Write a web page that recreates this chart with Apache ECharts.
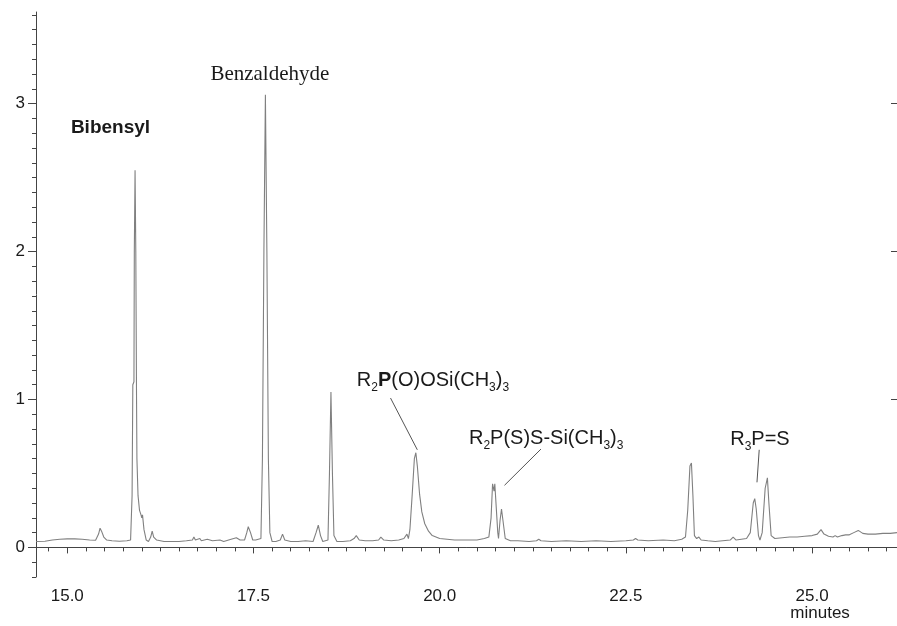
<!DOCTYPE html>
<html>
<head>
<meta charset="utf-8">
<script src="https://cdn.jsdelivr.net/npm/echarts@6/dist/echarts.min.js"></script>
<style>
html,body{margin:0;padding:0;background:#fff;}
#chart{width:897px;height:626px;}
</style>
</head>
<body>
<div id="chart"></div>
<script>
// Retention time (minutes) and detector signal
const times = [
14.58,14.70,14.80,14.90,15.00,15.10,15.20,15.30,15.38,15.42,15.44,15.46,15.49,15.53,15.60,15.70,15.80,15.85,
15.87,15.88,15.895,15.90,15.91,15.92,15.93,15.935,15.95,15.97,15.99,16.00,16.01,16.03,16.06,16.09,16.12,16.14,16.16,
16.20,16.30,16.40,16.50,16.60,16.68,16.70,16.72,16.78,16.80,16.88,16.95,17.05,17.10,17.20,17.27,17.32,17.38,17.41,
17.43,17.46,17.49,17.53,17.60,17.62,17.64,17.66,17.68,17.70,17.72,17.75,17.80,17.86,17.89,17.92,18.00,18.10,18.20,
18.30,18.34,18.37,18.40,18.43,18.50,18.52,18.54,18.56,18.58,18.62,18.70,18.80,18.85,18.88,18.92,19.00,19.10,19.18,
19.21,19.25,19.35,19.45,19.52,19.56,19.58,19.60,19.63,19.66,19.68,19.70,19.73,19.76,19.80,19.85,19.90,19.95,20.00,
20.10,20.20,20.30,20.40,20.50,20.60,20.66,20.69,20.71,20.73,20.74,20.76,20.78,20.79,20.81,20.83,20.85,20.88,20.95,
21.05,21.20,21.30,21.33,21.36,21.50,21.70,21.90,22.10,22.30,22.50,22.60,22.63,22.66,22.80,23.00,23.15,23.25,23.30,
23.33,23.36,23.38,23.40,23.42,23.45,23.48,23.51,23.60,23.70,23.80,23.90,23.94,23.98,24.05,24.12,24.17,24.21,24.23,
24.25,24.28,24.30,24.33,24.37,24.40,24.42,24.45,24.50,24.60,24.70,24.80,24.90,25.00,25.07,25.12,25.16,25.22,25.28,
25.31,25.34,25.40,25.45,25.50,25.56,25.62,25.68,25.75,25.85,25.95,26.05,26.14
];
const signal = [
0.040,0.042,0.050,0.055,0.058,0.058,0.055,0.050,0.048,0.09,0.13,0.11,0.07,0.05,0.045,0.042,0.045,0.05,
0.35,1.10,1.12,2.00,2.55,2.00,1.00,0.60,0.35,0.25,0.22,0.20,0.22,0.12,0.05,0.04,0.07,0.11,0.07,
0.05,0.04,0.04,0.04,0.045,0.05,0.07,0.05,0.06,0.045,0.055,0.045,0.05,0.04,0.055,0.065,0.05,0.05,0.10,
0.14,0.10,0.05,0.05,0.06,0.60,2.00,3.06,2.00,0.60,0.10,0.04,0.04,0.05,0.09,0.05,0.04,0.04,0.045,
0.04,0.10,0.15,0.08,0.04,0.05,0.50,1.05,0.50,0.08,0.04,0.04,0.045,0.06,0.08,0.05,0.045,0.045,0.05,
0.07,0.05,0.045,0.05,0.06,0.09,0.06,0.12,0.35,0.60,0.64,0.55,0.36,0.24,0.16,0.11,0.08,0.07,0.06,
0.055,0.05,0.05,0.05,0.05,0.06,0.07,0.20,0.43,0.38,0.43,0.42,0.10,0.06,0.18,0.26,0.18,0.06,0.045,
0.045,0.04,0.045,0.055,0.045,0.04,0.045,0.04,0.045,0.04,0.045,0.05,0.06,0.05,0.045,0.05,0.045,0.055,0.07,
0.25,0.55,0.57,0.35,0.08,0.06,0.07,0.05,0.045,0.04,0.045,0.05,0.07,0.05,0.055,0.06,0.10,0.30,0.33,
0.26,0.08,0.05,0.10,0.40,0.47,0.30,0.08,0.06,0.065,0.07,0.07,0.075,0.08,0.09,0.12,0.09,0.075,0.07,
0.08,0.07,0.08,0.085,0.085,0.10,0.115,0.095,0.09,0.09,0.095,0.095,0.10
];
// Axis ticks and labels
const xMajorTicks = [15.0, 17.5, 20.0, 22.5, 25.0];
const xMinorTicks = [14.75,15.0,15.25,15.5,15.75,16.0,16.25,16.5,16.75,17.0,17.25,17.5,17.75,18.0,18.25,18.5,18.75,
  19.0,19.25,19.5,19.75,20.0,20.25,20.5,20.75,21.0,21.25,21.5,21.75,22.0,22.25,22.5,22.75,23.0,23.25,23.5,23.75,
  24.0,24.25,24.5,24.75,25.0,25.25,25.5,25.75,26.0];
const yMajorTicks = [0, 1, 2, 3];
const yMinorTicks = [-0.2,-0.1,0,0.1,0.2,0.3,0.4,0.5,0.6,0.7,0.8,0.9,1.0,1.1,1.2,1.3,1.4,1.5,1.6,1.7,1.8,1.9,2.0,
  2.1,2.2,2.3,2.4,2.5,2.6,2.7,2.8,2.9,3.0,3.1,3.2,3.3,3.4,3.5,3.6];
const xName = 'minutes';
// Peak annotations: [time, signal] anchors
const peakLabels = [
  {name: 'Bibensyl', coord: [15.58, 2.84], style: 'bib'},
  {name: 'Benzaldehyde', coord: [17.72, 3.20], style: 'benz'},
  {name: '{a|R}{s|2}{b|P}{a|(O)OSi(CH}{s|3}{a|)}{s|3}', coord: [19.91, 1.14], style: 'rich'},
  {name: '{a|R}{s|2}{a|P(S)S-Si(CH}{s|3}{a|)}{s|3}', coord: [21.43, 0.75], style: 'rich'},
  {name: '{a|R}{s|3}{a|P=S}', coord: [24.30, 0.74], style: 'rich'}
];
const leaders = [
  [[19.34, 1.01], [19.70, 0.66]],
  [[21.36, 0.665], [20.87, 0.42]],
  [[24.29, 0.66], [24.26, 0.44]]
];

const XMIN = 14.58, XMAX = 26.14, YMIN = -0.2, YMAX = 3.62;
const axisColor = '#444';
const textColor = '#1a1a1a';
const sans = 'Liberation Sans, Arial, sans-serif';

const richStyles = {
  a: {fontFamily: sans, fontSize: 20, color: textColor, lineHeight: 24, verticalAlign: 'bottom'},
  b: {fontFamily: sans, fontSize: 20, fontWeight: 'bold', color: textColor, lineHeight: 24, verticalAlign: 'bottom'},
  s: {fontFamily: sans, fontSize: 12, color: textColor, lineHeight: 16, verticalAlign: 'bottom', padding: [0, 0, -3, 0]}
};
function labelFor(p) {
  if (p.style === 'bib') return {show: true, formatter: p.name, fontFamily: sans, fontWeight: 'bold', fontSize: 19, color: textColor};
  if (p.style === 'benz') return {show: true, formatter: p.name, fontFamily: 'Liberation Serif, Times New Roman, serif', fontSize: 21, color: textColor};
  return {show: true, formatter: p.name, rich: richStyles};
}

const chart = echarts.init(document.getElementById('chart'), null, {renderer: 'canvas'});
const commonX = {type: 'value', min: XMIN, max: XMAX, splitLine: {show: false}};
const commonY = {type: 'value', min: YMIN, max: YMAX, splitLine: {show: false}};
chart.setOption({
  animation: false,
  backgroundColor: '#fff',
  grid: {left: 36, right: 0, top: 12, bottom: 49, containLabel: false},
  xAxis: [
    Object.assign({}, commonX, {
      position: 'bottom',
      axisLine: {show: true, lineStyle: {color: axisColor, width: 1}},
      axisTick: {show: true, length: 6, lineStyle: {color: axisColor}, customValues: xMajorTicks},
      axisLabel: {show: true, customValues: xMajorTicks, margin: 11, color: textColor,
        fontFamily: sans, fontSize: 17,
        formatter: function (v) { return Math.abs(v - 25) < 1e-9 ? v.toFixed(1) + '\n{m|' + xName + '}' : v.toFixed(1); },
        rich: {m: {fontFamily: sans, fontSize: 17, color: textColor, padding: [0, 0, 0, 16], lineHeight: 16}}
      }
    }),
    Object.assign({}, commonX, {
      position: 'bottom',
      axisLine: {show: false},
      axisTick: {show: true, length: 4, lineStyle: {color: axisColor}, customValues: xMinorTicks},
      axisLabel: {show: false}
    }),
    Object.assign({}, commonX, {
      position: 'top',
      axisLine: {show: true, lineStyle: {color: axisColor, width: 1}},
      axisTick: {show: false},
      axisLabel: {show: false}
    })
  ],
  yAxis: [
    Object.assign({}, commonY, {
      position: 'left',
      axisLine: {show: true, lineStyle: {color: axisColor, width: 1}},
      axisTick: {show: true, length: 8, lineStyle: {color: axisColor}, customValues: yMajorTicks},
      axisLabel: {show: true, customValues: yMajorTicks, margin: 11, color: textColor,
        fontFamily: sans, fontSize: 17}
    }),
    Object.assign({}, commonY, {
      position: 'left',
      axisLine: {show: false},
      axisTick: {show: true, length: 4, lineStyle: {color: axisColor}, customValues: yMinorTicks},
      axisLabel: {show: false}
    }),
    Object.assign({}, commonY, {
      position: 'right',
      axisLine: {show: false},
      axisTick: {show: true, inside: true, length: 6, lineStyle: {color: axisColor}, customValues: yMajorTicks},
      axisLabel: {show: false}
    })
  ],
  series: [{
    type: 'line',
    xAxisIndex: 0,
    yAxisIndex: 0,
    data: times.map((t, i) => [t, signal[i]]),
    showSymbol: false,
    symbol: 'none',
    lineStyle: {color: '#808080', width: 1.1},
    silent: true,
    markPoint: {
      symbol: 'circle',
      symbolSize: 0,
      silent: true,
      data: peakLabels.map(p => ({name: p.style, coord: p.coord, label: labelFor(p)})),
      label: {position: 'inside'}
    },
    markLine: {
      symbol: ['none', 'none'],
      silent: true,
      label: {show: false},
      lineStyle: {color: '#555', width: 1, type: 'solid'},
      data: leaders.map(l => [{coord: l[0]}, {coord: l[1]}])
    }
  }]
});
</script>
</body>
</html>
